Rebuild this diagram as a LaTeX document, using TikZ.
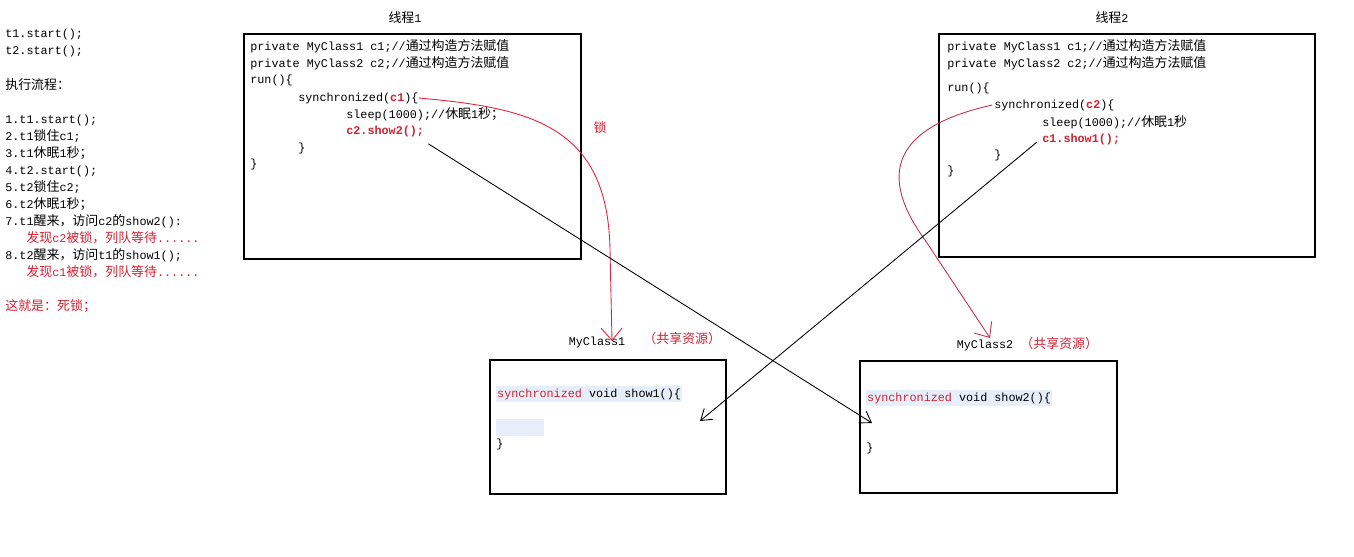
\documentclass[tikz,border=0pt]{standalone}
\usepackage{fontspec}
\usepackage{xcolor}
\setmainfont{Liberation Mono}
\newfontfamily\zhfont[Scale=1.1]{Noto Sans CJK SC}
\newcommand{\zh}[1]{{\zhfont #1}}
\usetikzlibrary{arrows.meta}
\definecolor{lockred}{HTML}{E8203A}
\definecolor{lockdark}{HTML}{C0304A}
\definecolor{txtred}{HTML}{D42030}
\definecolor{hilite}{HTML}{E6EEFA}

\begin{document}
\begin{tikzpicture}[x=0.02cm,y=-0.02cm,
   every node/.style={inner sep=0pt,font=\fontsize{6.7}{9.7}\selectfont},
   code line/.style={anchor=west},
   red code/.style={anchor=west,text=txtred,font=\fontsize{6.7}{9.7}\selectfont\bfseries},
   hl line/.style={anchor=west,fill=hilite,minimum height=9.6pt,inner xsep=0.5pt},
   code box/.style={draw,line width=0.6pt},
   lock arrow/.style={lockred,line width=0.5pt,-{Straight Barb[length=7pt,width=12pt]}},
   call arrow/.style={line width=0.5pt,-{Straight Barb[length=6pt,width=8pt]}}]

  \useasboundingbox (0,0) rectangle (1354,556);

  % execution flow
  \node[anchor=north west,align=left] (flow) at (5,29)
    {t1.start();\\ t2.start();\\[9.7pt]
     \zh{执行流程：}\\[9.7pt]
     1.t1.start();\\
     2.t1\zh{锁住}c1;\\
     3.t1\zh{休眠}1\zh{秒；}\\
     4.t2.start();\\
     5.t2\zh{锁住}c2;\\
     6.t2\zh{休眠}1\zh{秒；}\\
     7.t1\zh{醒来，访问}c2\zh{的}show2():\\
     \hspace*{12pt}\textcolor{txtred}{\zh{发现}c2\zh{被锁，列队等待}......}\\
     8.t2\zh{醒来，访问}t1\zh{的}show1();\\
     \hspace*{12pt}\textcolor{txtred}{\zh{发现}c1\zh{被锁，列队等待}......}\\[9.7pt]
     \textcolor{txtred}{\zh{这就是：死锁；}}};

  % thread 1
  \node (t1title) at (405,18) {\zh{线程}1};
  \draw[code box] (244,34) rectangle (581,259);
  \node[code line] (t1a) at (250,46) {private MyClass1 c1;//\zh{通过构造方法赋值}};
  \node[code line] (t1b) at (250,63) {private MyClass2 c2;//\zh{通过构造方法赋值}};
  \node[code line] (t1run) at (250,80) {run()\{};
  \node[code line] (sync1) at (298,98) {synchronized(\textcolor{txtred}{\bfseries c1})\{};
  \node[code line] (sleep1) at (346,114) {sleep(1000);//\zh{休眠}1\zh{秒；}};
  \node[red code] (show2call) at (346,131) {c2.show2();};
  \node[code line] (t1c) at (298,148) {\}};
  \node[code line] (t1d) at (250,164) {\}};

  % thread 2
  \node (t2title) at (1112,18) {\zh{线程}2};
  \draw[code box] (939,34) rectangle (1315,257);
  \node[code line] (t2a) at (947,46) {private MyClass1 c1;//\zh{通过构造方法赋值}};
  \node[code line] (t2b) at (947,63) {private MyClass2 c2;//\zh{通过构造方法赋值}};
  \node[code line] (t2run) at (947,88) {run()\{};
  \node[code line] (sync2) at (994,105) {synchronized(\textcolor{txtred}{\bfseries c2})\{};
  \node[code line] (sleep2) at (1042,122) {sleep(1000);//\zh{休眠}1\zh{秒}};
  \node[red code] (show1call) at (1042,139) {c1.show1();};
  \node[code line] (t2c) at (994,155) {\}};
  \node[code line] (t2d) at (947,171) {\}};

  % shared resource 1
  \node (mc1title) at (597,342) {MyClass1};
  \node[anchor=west,text=txtred] (mc1note) at (643,339) {\zh{（共享资源）}};
  \draw[code box] (490,360) rectangle (726,494);
  \node[hl line] (show1def) at (496,394) {\textcolor{txtred}{synchronized} void show1()\{};
  \fill[hilite] (496,419) rectangle (544,436);
  \node[code line] (mc1end) at (496,444) {\}};

  % shared resource 2
  \node (mc2title) at (985,345) {MyClass2};
  \node[anchor=west,text=txtred] (mc2note) at (1020,344) {\zh{（共享资源）}};
  \draw[code box] (860,361) rectangle (1117,493);
  \node[hl line] (show2def) at (866,398) {\textcolor{txtred}{synchronized} void show2()\{};
  \node[code line] (mc2end) at (866,448) {\}};

  \coordinate (lock1 tip) at (612,341);
  \coordinate (lock2 tip) at (990,338);
  \coordinate (show2 tip) at (872,423);
  \coordinate (show1 tip) at (700,421);

  % locks
  \node[text=txtred] (lock) at (600,128) {\zh{锁}};
  \draw[lock arrow] (sync1.east) .. controls (530,108) and (608,125) .. (610,250) -- (lock1 tip);
  \draw[lock arrow,lockdark] ([xshift=-1pt]sync2.west) .. controls (880,130) and (885,185) .. (925,240) -- (lock2 tip);

  % calls
  \draw[call arrow] ([shift={(4,7)}]show2call.south east) -- (show2 tip);
  \draw[call arrow] ([shift={(-5,3)}]show1call.west) -- (show1 tip);
\end{tikzpicture}
\end{document}
